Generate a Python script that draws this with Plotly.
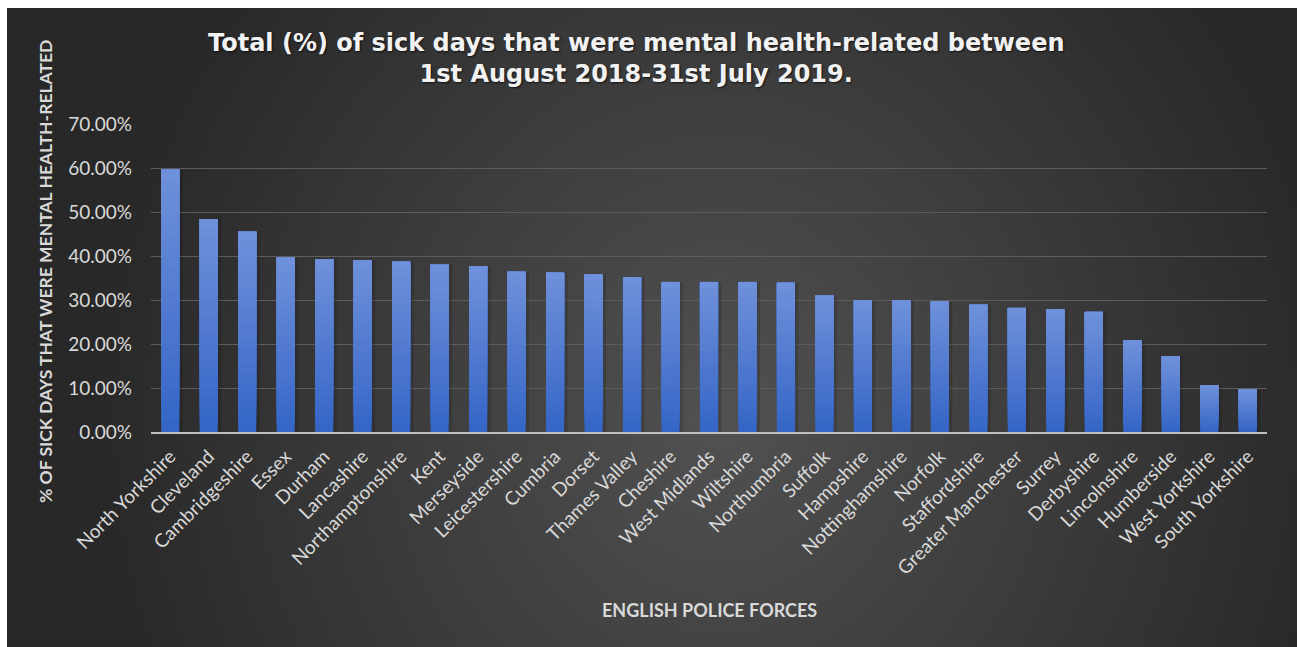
import base64
import struct
import zlib

import numpy as np
import plotly.graph_objects as go

# ---- data -------------------------------------------------------------
forces = [
    "North Yorkshire", "Cleveland", "Cambridgeshire", "Essex", "Durham",
    "Lancashire", "Northamptonshire", "Kent", "Merseyside", "Leicestershire",
    "Cumbria", "Dorset", "Thames Valley", "Cheshire", "West Midlands",
    "Wiltshire", "Northumbria", "Suffolk", "Hampshire", "Nottinghamshire",
    "Norfolk", "Staffordshire", "Greater Manchester", "Surrey", "Derbyshire",
    "Lincolnshire", "Humberside", "West Yorkshire", "South Yorkshire",
]
mental_health_pct = [
    59.6, 48.4, 45.5, 39.6, 39.3,
    39.0, 38.7, 38.0, 37.7, 36.4,
    36.2, 35.9, 35.2, 34.1, 34.1,
    34.1, 33.9, 31.0, 29.9, 29.9,
    29.7, 28.9, 28.2, 27.9, 27.3,
    20.8, 17.2, 10.6, 9.7,
]
y_ticks = [0, 10, 20, 30, 40, 50, 60, 70]
y_tick_labels = ["0.00%", "10.00%", "20.00%", "30.00%",
                 "40.00%", "50.00%", "60.00%", "70.00%"]

TITLE = ("Total (%) of sick days that were mental health-related between<br>"
         "1st August 2018-31st July 2019.")
Y_TITLE = "% OF SICK DAYS THAT WERE MENTAL HEALTH-RELATED"
X_TITLE = "ENGLISH POLICE FORCES"

# ---- page geometry ----------------------------------------------------
W, H = 1297, 647
ML, MR, MT, MB = 151, 30, 124, 215
PW, PH = W - ML - MR, H - MT - MB
CHART_LEFT, CHART_TOP = 7, 8          # white strip around the chart area


def px_to_paper_x(px):
    return (px - ML) / PW


def px_to_paper_y(py):
    return (H - MB - py) / PH


# ---- dark radial background, rendered to a small PNG ----------------
def png_data_uri(rgb):
    h, w, _ = rgb.shape
    raw = b"".join(b"\x00" + rgb[r].tobytes() for r in range(h))

    def chunk(tag, data):
        return (struct.pack(">I", len(data)) + tag + data
                + struct.pack(">I", zlib.crc32(tag + data) & 0xFFFFFFFF))

    png = (b"\x89PNG\r\n\x1a\n"
           + chunk(b"IHDR", struct.pack(">IIBBBBB", w, h, 8, 2, 0, 0, 0))
           + chunk(b"IDAT", zlib.compress(raw, 9))
           + chunk(b"IEND", b""))
    return "data:image/png;base64," + base64.b64encode(png).decode()


bg_w, bg_h = W - CHART_LEFT, H - CHART_TOP
gx = np.linspace(CHART_LEFT, W, bg_w // 4)
gy = np.linspace(CHART_TOP, H, bg_h // 4)
XX, YY = np.meshgrid(gx, gy)
dist = np.sqrt(((XX - 720) / 640.0) ** 2 + ((YY - 420) / 700.0) ** 2)
shade = 40 + 42 * np.clip(1 - dist, 0, 1)
bg = np.clip(np.stack([shade] * 3, axis=-1), 0, 255).astype(np.uint8)
bg_uri = png_data_uri(bg)

# ---- figure -----------------------------------------------------------
fig = go.Figure()

BAR_W = 0.47
N_BANDS = 24
bottom_rgb = np.array([52, 101, 198])
top_rgb = np.array([112, 145, 218])

# faint drop shadow on the right of each bar
fig.add_trace(go.Bar(
    x=forces, y=mental_health_pct, width=BAR_W + 0.07, offset=-BAR_W / 2 + 0.02,
    marker=dict(color="rgba(0,0,0,0.14)", line=dict(width=0)),
    hoverinfo="skip", showlegend=False,
))

# vertical colour gradient inside each bar: each band runs from its own
# base up to the bar top and is overdrawn by the next, lighter band
for k in range(N_BANDS):
    t = (k + 0.5) / N_BANDS
    c = (bottom_rgb + (top_rgb - bottom_rgb) * t).round().astype(int)
    fig.add_trace(go.Bar(
        x=forces,
        y=[v * (N_BANDS - k) / N_BANDS for v in mental_health_pct],
        base=[v * k / N_BANDS for v in mental_health_pct],
        width=BAR_W, offset=-BAR_W / 2,
        marker=dict(color=f"rgb({c[0]},{c[1]},{c[2]})", line=dict(width=0)),
        customdata=mental_health_pct,
        hovertemplate="%{x}: %{customdata:.2f}%<extra></extra>",
        hoverinfo="skip" if k else None,
        showlegend=False,
    ))

fig.update_layout(
    width=W, height=H,
    margin=dict(l=ML, r=MR, t=MT, b=MB, pad=0),
    paper_bgcolor="white",
    plot_bgcolor="rgba(0,0,0,0)",
    barmode="overlay",
    showlegend=False,
    font=dict(family="Lato", color="#d9d9d9"),
    images=[dict(
        source=bg_uri, xref="paper", yref="paper",
        x=px_to_paper_x(CHART_LEFT), y=px_to_paper_y(CHART_TOP),
        sizex=(W - CHART_LEFT) / PW, sizey=(H - CHART_TOP) / PH,
        xanchor="left", yanchor="top", sizing="stretch", layer="below",
    )],
    xaxis=dict(
        type="category",
        tickangle=-45,
        tickfont=dict(family="Lato", size=19, color="#d9d9d9"),
        showgrid=False,
        showline=True, linecolor="#bfbfbf", linewidth=2,
        ticks="", ticklabelstandoff=4,
    ),
    yaxis=dict(
        range=[0, 70],
        tickvals=y_ticks,
        ticktext=y_tick_labels,
        tickfont=dict(family="Lato", size=19, color="#d9d9d9"),
        showgrid=True, gridcolor="#5c5c5c", gridwidth=1,
        zeroline=False, showline=False,
        ticks="", ticklabelstandoff=18,
    ),
    annotations=[
        dict(
            text=TITLE, xref="paper", yref="paper",
            x=px_to_paper_x(636), y=px_to_paper_y(59),
            xanchor="center", yanchor="middle", showarrow=False,
            font=dict(family="DejaVu Sans", size=24, color="#f2f2f2", weight="bold",
                      shadow="1px 1px 2px rgba(0,0,0,0.7)"),
        ),
        dict(
            text=Y_TITLE, xref="paper", yref="paper",
            x=px_to_paper_x(45), y=px_to_paper_y(272),
            xanchor="center", yanchor="middle", textangle=-90, showarrow=False,
            font=dict(family="Lato", size=17.5, color="#d9d9d9", weight="bold"),
        ),
        dict(
            text=X_TITLE, xref="paper", yref="paper",
            x=0.5, y=px_to_paper_y(610),
            xanchor="center", yanchor="middle", showarrow=False,
            font=dict(family="Lato", size=18, color="#d9d9d9", weight="bold"),
        ),
    ],
)

fig.write_html("out.html")
